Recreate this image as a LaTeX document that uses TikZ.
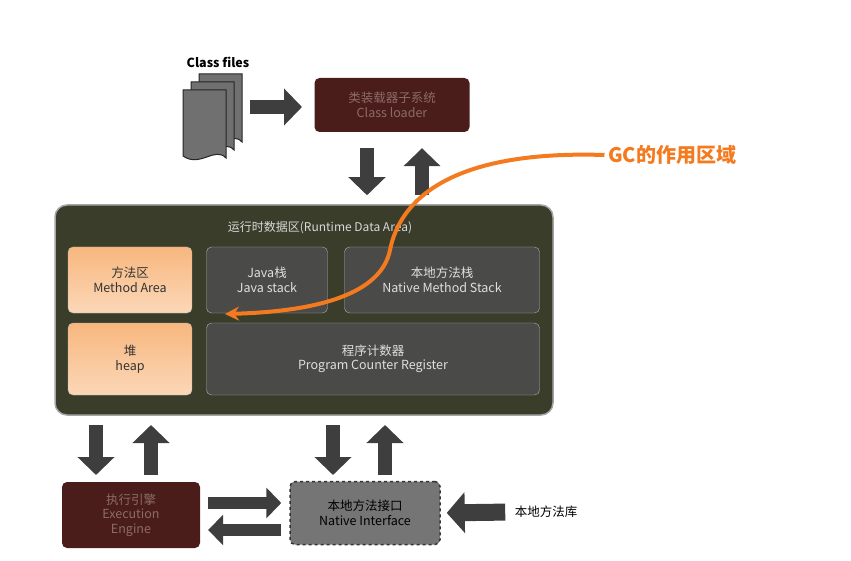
\documentclass[tikz,border=0pt]{standalone}
\usepackage{fontspec}
\setmainfont{Noto Sans CJK SC}
\usetikzlibrary{positioning,arrows.meta}
\definecolor{loaderred}{HTML}{4A1C1A}
\definecolor{loadertext}{HTML}{8C6C68}
\definecolor{areaolive}{HTML}{3A3D2A}
\definecolor{cellgray}{HTML}{4A4A48}
\definecolor{arrowgray}{HTML}{3E3E3E}
\definecolor{gcorange}{HTML}{F47A1F}
\definecolor{methodorange}{HTML}{F8B77E}
\tikzset{
  box/.style={rounded corners=5pt, align=center, font=\fontsize{12.5}{14.5}\selectfont, inner sep=0pt},
  redbox/.style={box, fill=loaderred, text=loadertext},
  cell/.style={box, fill=cellgray, draw=gray!60, text=gray!25},
  orange cell/.style={box, draw=gray!60, top color=methodorange, bottom color=methodorange!55!white, text=black!80},
  block/.style={draw=arrowgray, line width=14pt, -{Triangle[width=36pt,length=18pt]}},
  docpage/.style={fill=gray!60!black!80, draw=gray!30!black, line width=1pt}
}
\begin{document}
\begin{tikzpicture}[x=1pt,y=-1pt]
\useasboundingbox (0,0) rectangle (851,561);

% class files
\node[font=\bfseries\fontsize{12.5}{14}\selectfont] (cflabel) at (218,62) {Class files};
\foreach \d in {16,8,0}
  \draw[docpage] (183+\d,90-\d) -- (226+\d,90-\d) -- (226+\d,158-\d)
    .. controls (215+\d,146-\d) and (200+\d,168-\d) .. (183+\d,156-\d) -- cycle;
\coordinate (cf) at (250,107);

% class loader
\node[redbox, minimum width=155pt, minimum height=54pt] (cl) at (392,105) {类装载器子系统\\Class loader};

% runtime data area
\node[box, fill=areaolive, draw=gray!70, line width=1.5pt, rounded corners=12pt,
      minimum width=498pt, minimum height=210pt] (rda) at (304,310) {};
\node[text=gray!30, font=\fontsize{12}{14}\selectfont] (rdatitle) at (320,228) {运行时数据区(Runtime Data Area)};
\node[orange cell, minimum width=124pt, minimum height=66pt] (ma) at (130,280) {方法区\\Method Area};
\node[orange cell, minimum width=124pt, minimum height=72pt] (heap) at (130,359) {堆\\heap};
\node[cell, minimum width=121pt, minimum height=66pt] (js) at (267,280) {Java栈\\Java stack};
\node[cell, minimum width=195pt, minimum height=66pt] (nms) at (442,280) {本地方法栈\\Native Method Stack};
\node[cell, minimum width=333pt, minimum height=72pt] (pc) at (373,359) {程序计数器\\Program Counter Register};

% execution engine, native interface
\node[redbox, minimum width=138pt, minimum height=66pt] (ee) at (131,515) {执行引擎\\Execution\\Engine};
\node[box, fill=gray!65!black!80, draw=black!80, dashed, line width=1.5pt, text=black,
      minimum width=150pt, minimum height=63pt] (ni) at (365,513) {本地方法接口\\Native Interface};
\node[font=\fontsize{12.5}{14}\selectfont] (lib) at (546,512) {本地方法库};

% block arrows
\draw[block] (cf) -- ++(52,0) coordinate (cfend);
\draw[block, shorten <=16pt, shorten >=9pt] ([xshift=-25pt]cl.south) -- ([xshift=-25pt]cl.south |- rda.north);
\draw[block, shorten <=9pt, shorten >=16pt] ([xshift=30pt]cl.south |- rda.north) -- ([xshift=30pt]cl.south);
\draw[block, shorten <=10pt, shorten >=7pt] (96,415) -- (96,482);
\draw[block, shorten <=7pt, shorten >=10pt] (151,482) -- (151,415);
\draw[block, shorten <=10pt, shorten >=7pt] (333,415) -- (333,482);
\draw[block, shorten <=7pt, shorten >=10pt] (385,482) -- (385,415);
\draw[block, line width=12pt, -{Triangle[width=30pt,length=15pt]}, shorten <=8pt, shorten >=8pt]
  ([yshift=12pt]ee.east) -- ([yshift=12pt]ee.east -| ni.west);
\draw[block, line width=12pt, -{Triangle[width=30pt,length=15pt]}, shorten <=8pt, shorten >=8pt]
  ([yshift=-15pt]ee.east -| ni.west) -- ([yshift=-15pt]ee.east);
\draw[block, line width=17pt, -{Triangle[width=40pt,length=18pt]}, shorten <=6pt, shorten >=6pt] (lib.west) -- (ni.east);

% GC
\node[text=gcorange, font=\bfseries\fontsize{20}{23}\selectfont] (gc) at (672,155) {GC的作用区域};
\draw[gcorange, line width=4pt, -{Stealth[length=14pt,width=14pt]}]
  (gc.west) .. controls (450,150) and (400,200) .. (390,250)
  .. controls (380,300) and (300,312) .. (225,314);
\end{tikzpicture}
\end{document}
